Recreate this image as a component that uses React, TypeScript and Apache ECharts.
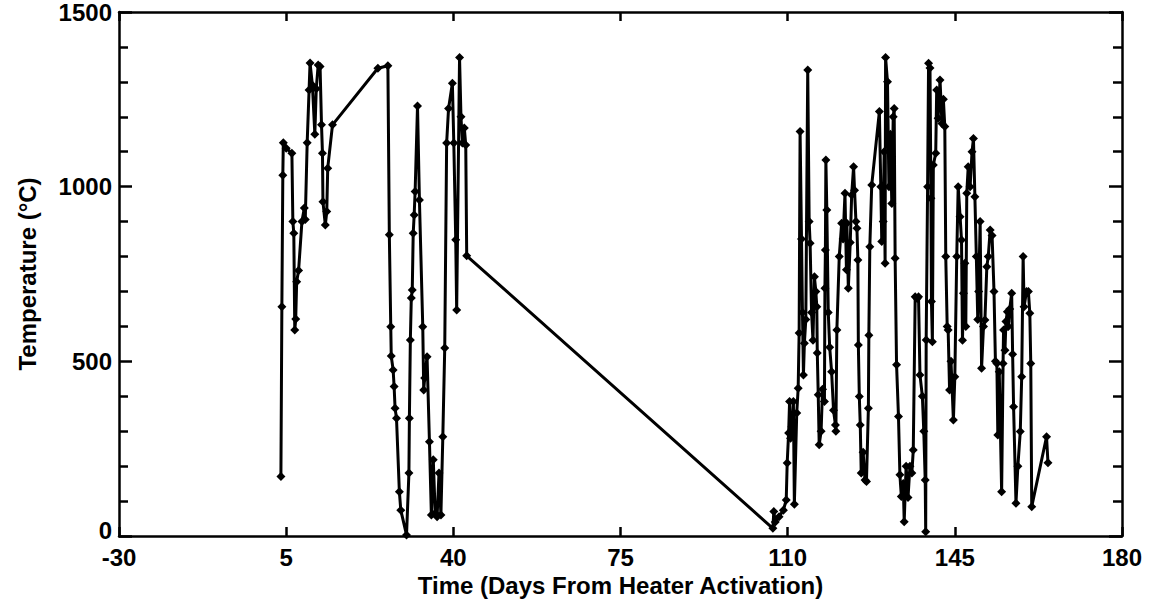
import React, { useEffect, useRef } from "react";
import * as echarts from "echarts";

// Time (days from heater activation)
const days: number[] = [
  3.9, 4.1, 4.3, 4.4, 5.0, 6.2, 6.4, 6.6, 6.8, 7.0, 7.2, 7.6, 8.3, 8.8, 9.0, 9.4, 9.8, 10.0, 10.5, 11.0,
  11.3, 11.7, 12.1, 12.4, 12.6, 12.7, 13.2, 13.5, 13.7, 14.7, 24.2, 26.3, 26.6, 26.9, 27.0, 27.4, 27.6, 27.8, 28.1, 28.7,
  29.0, 30.2, 30.7, 30.8, 31.0, 31.2, 31.4, 31.6, 31.8, 32.0, 32.5, 32.9, 33.6, 33.8, 34.0, 34.5, 35.0, 35.4, 35.8, 36.2,
  36.6, 37.0, 37.4, 37.8, 38.2, 38.6, 39.0, 39.8, 40.1, 40.5, 40.7, 41.3, 41.6, 41.9, 42.3, 42.6, 42.8,
  106.9, 107.1, 107.4, 108.2, 109.1, 109.7, 109.9, 110.2, 110.4, 110.6, 110.9, 111.2, 111.4, 111.9, 112.2, 112.4, 112.6, 112.9,
  113.1, 113.3, 113.5, 113.8, 114.2, 114.5, 114.7, 115.0, 115.3, 115.6, 115.9, 116.1, 116.2, 116.4, 116.6, 117.0, 117.3, 117.7,
  117.8, 117.9, 118.0, 118.2, 118.5, 118.8, 119.2, 119.6, 120.0, 120.1, 120.3, 120.8, 121.3, 121.6, 122.0, 122.3, 122.4, 122.7,
  123.1, 123.4, 123.8, 124.0, 124.3, 124.5, 124.7, 124.8, 125.0, 125.2, 125.4, 125.8, 126.2, 126.5, 126.9, 127.0, 127.2, 127.6,
  129.2, 129.5, 129.7, 130.0, 130.2, 130.4, 130.5, 130.9, 131.2, 131.5, 131.8, 132.1, 132.3, 132.5, 132.8, 133.2, 133.5, 133.8,
  134.2, 134.4, 134.8, 135.2, 135.6, 136.0, 136.3, 136.7, 137.1, 137.4, 137.7, 138.2, 138.5, 138.8, 138.9, 139.0, 139.3, 139.5,
  139.8, 140.0, 140.1, 140.3, 140.5, 141.0, 141.2, 141.5, 141.9, 142.3, 142.6, 142.9, 143.1, 143.4, 143.6, 143.9, 144.2, 144.7,
  145.0, 145.4, 145.7, 146.1, 146.4, 146.6, 146.8, 147.1, 147.3, 147.5, 147.8, 148.2, 148.6, 148.9, 149.2, 149.5, 149.8, 150.0,
  150.3, 150.6, 151.0, 151.3, 151.7, 152.0, 152.4, 152.8, 153.2, 153.5, 153.8, 154.0, 154.3, 154.8, 155.1, 155.2, 155.5, 155.7,
  156.0, 156.2, 156.5, 156.9, 157.1, 157.3, 157.8, 158.2, 158.7, 159.0, 159.3, 159.5, 160.0, 160.4, 160.7, 160.9, 161.1, 164.2,
  164.5,
];

// Temperature (°C)
const temps: number[] = [
  170, 656, 1033, 1126, 1110, 1096, 900, 867, 590, 621, 728, 760, 900, 939, 906, 1126, 1277, 1354, 1290, 1150,
  1280, 1348, 1344, 1177, 1096, 957, 890, 929, 1053, 1177, 1339, 1346, 862, 599, 515, 475, 428, 366, 337, 127,
  74, 3, 180, 337, 561, 681, 704, 867, 919, 986, 1231, 962, 599, 418, 452, 513, 270, 60, 218, 65,
  55, 180, 60, 284, 538, 1125, 1224, 1296, 1125, 848, 647, 1370, 1200, 1125, 1168, 1119, 802,
  22, 70, 40, 55, 74, 103, 209, 295, 385, 280, 313, 385, 91, 352, 423, 581, 1158, 850,
  640, 461, 552, 620, 1334, 900, 838, 640, 560, 742, 700, 656, 524, 404, 261, 300, 420, 385,
  709, 819, 1076, 933, 640, 540, 470, 360, 318, 300, 590, 800, 895, 850, 981, 762, 895, 709,
  840, 976, 1057, 990, 900, 881, 790, 547, 399, 318, 180, 240, 160, 156, 366, 575, 828, 1005,
  1215, 1000, 843, 900, 1100, 781, 1370, 1300, 1000, 1150, 952, 1200, 1224, 795, 490, 342, 175, 113,
  150, 41, 200, 110, 200, 180, 246, 685, 680, 685, 461, 400, 300, 160, 12, 561, 1000, 1353,
  1340, 967, 671, 556, 1062, 1096, 1277, 1196, 1305, 1181, 1250, 1172, 800, 600, 590, 418, 500, 332,
  456, 800, 1000, 914, 847, 560, 695, 781, 600, 981, 1057, 1000, 1100, 1138, 971, 800, 620, 700,
  900, 480, 600, 618, 771, 800, 876, 860, 700, 500, 494, 289, 470, 127, 494, 590, 532, 614,
  642, 600, 650, 695, 520, 370, 94, 200, 299, 456, 800, 656, 700, 700, 638, 494, 84, 284,
  210,
];

const xTicks = { min: -30, max: 180, interval: 35 };
const yTicks = { min: 0, max: 1500, interval: 500 };

const FONT = "'Liberation Sans', Arial, sans-serif";
const FS = 24;

export default function App() {
  const ref = useRef<HTMLDivElement>(null);
  useEffect(() => {
    if (!ref.current) return;
    const chart = echarts.init(ref.current, undefined, { renderer: "svg" });
    const data = days.map((d, i) => [d, temps[i]]);
    const axisLine = { show: true, onZero: false, lineStyle: { color: "#000", width: 2.5 } };
    const tickStyle = { color: "#000", width: 2.5 };
    const labelStyle = { color: "#000", fontSize: FS, fontFamily: FONT, fontWeight: "bold" as const };
    chart.setOption({
      animation: false,
      backgroundColor: "#fff",
      grid: { left: 119, right: 31, top: 12, bottom: 71, containLabel: false },
      xAxis: [
        {
          type: "value",
          position: "bottom",
          min: xTicks.min,
          max: xTicks.max,
          interval: xTicks.interval,
          axisLine,
          axisTick: { show: true, inside: true, length: 9, lineStyle: tickStyle },
          axisLabel: { ...labelStyle, margin: 9, formatter: (v: number) => String(v) },
          splitLine: { show: false },
          name: "Time (Days From Heater Activation)",
          nameLocation: "middle",
          nameGap: 35,
          nameTextStyle: labelStyle,
        },
        {
          type: "value",
          position: "top",
          min: xTicks.min,
          max: xTicks.max,
          interval: xTicks.interval,
          axisLine,
          axisTick: { show: true, inside: true, length: 9, lineStyle: tickStyle },
          axisLabel: { show: false },
          splitLine: { show: false },
        },
      ],
      yAxis: [
        {
          type: "value",
          position: "left",
          min: yTicks.min,
          max: yTicks.max,
          interval: yTicks.interval,
          axisLine,
          axisTick: { show: true, inside: true, length: 13, lineStyle: tickStyle },
          minorTick: { show: true, splitNumber: 5, length: 9, lineStyle: tickStyle },
          axisLabel: {
            ...labelStyle,
            margin: 7,
            formatter: (v: number) => (v === 0 ? "{z|0}" : String(v)),
            rich: {
              z: { ...labelStyle, padding: [0, 0, 12, 0] },
            },
          },
          splitLine: { show: false },
          name: "Temperature (°C)",
          nameLocation: "middle",
          nameGap: 80,
          nameRotate: 90,
          nameTextStyle: labelStyle,
        },
        {
          type: "value",
          position: "right",
          min: yTicks.min,
          max: yTicks.max,
          interval: yTicks.interval,
          axisLine,
          axisTick: { show: true, inside: true, length: 13, lineStyle: tickStyle },
          minorTick: { show: true, splitNumber: 5, length: 9, lineStyle: tickStyle },
          axisLabel: { show: false },
          splitLine: { show: false },
        },
      ],
      series: [
        {
          type: "line",
          data,
          xAxisIndex: 0,
          yAxisIndex: 0,
          lineStyle: { color: "#000", width: 3 },
          itemStyle: { color: "#000" },
          symbol: "diamond",
          symbolSize: 9,
          showAllSymbol: true,
          clip: false,
        },
      ],
    });
    return () => chart.dispose();
  }, []);
  return (
    <div
      ref={ref}
      style={{ position: "absolute", left: 0, top: 0, width: 1153, height: 607 }}
    />
  );
}
